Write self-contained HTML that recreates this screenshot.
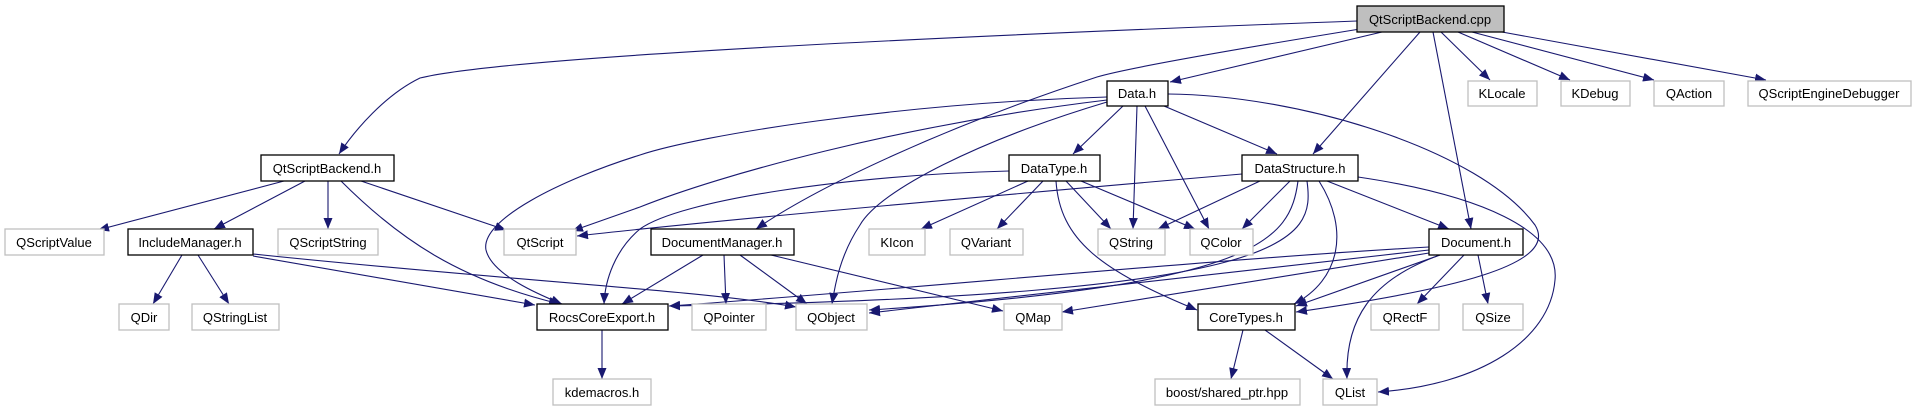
<!DOCTYPE html>
<html><head><meta charset="utf-8"><style>
html,body{margin:0;padding:0;background:#fff;}
svg{display:block;}
text{font-family:"Liberation Sans",sans-serif;font-size:13px;fill:#000;text-anchor:middle;}
.n{fill:#fff;stroke:#000;stroke-width:1.3;}
.g{fill:#fff;stroke:#bfbfbf;stroke-width:1.3;}
path.e{fill:none;stroke:#191970;stroke-width:1.1;}
</style></head><body>
<svg width="1916" height="411" viewBox="0 0 1916 411" xmlns="http://www.w3.org/2000/svg">
<defs><marker id="a" markerUnits="userSpaceOnUse" markerWidth="12" markerHeight="10" refX="11" refY="4.5" orient="auto"><path d="M0,0 L11,4.5 L0,9 z" fill="#191970"/></marker></defs>
<g marker-end="url(#a)">
<!-- cpp -->
<path class="e" d="M1357,21 C900,38 500,58 420,78 C385,95 355,130 339,154"/>
<path class="e" d="M1360,29 C1200,55 1120,70 1097,77 C950,125 820,185 756,229"/>
<path class="e" d="M1382,32 L1170,82"/>
<path class="e" d="M1420,32 L1313,154"/>
<path class="e" d="M1433,32 L1471,229"/>
<path class="e" d="M1441,32 L1490,80"/>
<path class="e" d="M1458,32 L1570,80"/>
<path class="e" d="M1472,32 L1654,80"/>
<path class="e" d="M1502,32 L1766,80"/>
<!-- Data.h -->
<path class="e" d="M1123,106 L1073,154"/>
<path class="e" d="M1137,106 L1133,229"/>
<path class="e" d="M1145,106 L1209,229"/>
<path class="e" d="M1164,106 L1277,154"/>
<path class="e" d="M1168,94 C1300,95 1480,150 1535,225 C1560,265 1450,290 1296,312"/>
<path class="e" d="M1107,97 C900,103 700,135 640,155 C560,180 480,220 486,250 C492,275 540,295 562,304"/>
<path class="e" d="M1107,100 C900,125 720,175 640,207 L572,231"/>
<path class="e" d="M1107,102 C980,140 880,190 860,225 C840,255 835,285 832,304"/>
<!-- DataType.h -->
<path class="e" d="M1009,171 C850,175 680,200 640,229 C615,250 605,280 604,304"/>
<path class="e" d="M1028,181 L921,229"/>
<path class="e" d="M1043,181 L997,229"/>
<path class="e" d="M1066,181 L1111,229"/>
<path class="e" d="M1081,181 L1195,229"/>
<path class="e" d="M1056,181 C1060,240 1100,270 1197,310"/>
<!-- DataStructure.h -->
<path class="e" d="M1242,174 C1000,195 700,222 577,236"/>
<path class="e" d="M1260,181 L1158,229"/>
<path class="e" d="M1290,181 L1242,229"/>
<path class="e" d="M1327,181 L1449,229"/>
<path class="e" d="M1358,177 C1480,195 1560,230 1555,280 C1550,340 1480,385 1378,392"/>
<path class="e" d="M1319,181 C1350,230 1340,280 1294,304"/>
<path class="e" d="M1298,181 C1290,240 1260,285 869,310"/>
<path class="e" d="M1307,181 C1315,240 1300,295 669,306"/>
<!-- Document.h -->
<path class="e" d="M1429,247 C1200,260 900,290 669,306"/>
<path class="e" d="M1429,250 L869,313"/>
<path class="e" d="M1429,253 L1062,312"/>
<path class="e" d="M1440,255 L1296,306"/>
<path class="e" d="M1440,255 C1370,280 1345,320 1347,379"/>
<path class="e" d="M1464,255 L1417,304"/>
<path class="e" d="M1478,255 L1488,304"/>
<!-- CoreTypes -->
<path class="e" d="M1243,330 L1231,379"/>
<path class="e" d="M1265,330 L1333,379"/>
<!-- DocumentManager -->
<path class="e" d="M703,255 L622,304"/>
<path class="e" d="M724,255 L726,304"/>
<path class="e" d="M740,255 L807,304"/>
<path class="e" d="M771,255 L1003,311"/>
<!-- QtScriptBackend.h -->
<path class="e" d="M284,181 L98,230"/>
<path class="e" d="M305,181 L214,229"/>
<path class="e" d="M328,181 L328,229"/>
<path class="e" d="M341,181 C400,240 460,280 560,304"/>
<path class="e" d="M361,181 L506,230"/>
<!-- IncludeManager -->
<path class="e" d="M182,255 L153,304"/>
<path class="e" d="M198,255 L229,304"/>
<path class="e" d="M253,256 L535,305"/>
<path class="e" d="M253,254 C500,280 700,290 796,307"/>
<!-- Rocs -->
<path class="e" d="M602,330 L602,379"/>
</g>
<!-- nodes -->
<rect x="1357" y="6" width="147" height="26" fill="#bfbfbf" stroke="#000" stroke-width="1.3"/><text x="1430" y="24">QtScriptBackend.cpp</text>
<rect class="n" x="1107" y="81" width="61" height="25"/><text x="1137" y="98">Data.h</text>
<rect class="g" x="1468" y="81" width="69" height="25"/><text x="1502" y="98">KLocale</text>
<rect class="g" x="1561" y="81" width="69" height="25"/><text x="1595" y="98">KDebug</text>
<rect class="g" x="1654" y="81" width="70" height="25"/><text x="1689" y="98">QAction</text>
<rect class="g" x="1748" y="81" width="163" height="25"/><text x="1829" y="98">QScriptEngineDebugger</text>
<rect class="n" x="261" y="155" width="133" height="26"/><text x="327" y="173">QtScriptBackend.h</text>
<rect class="n" x="1009" y="155" width="91" height="26"/><text x="1054" y="173">DataType.h</text>
<rect class="n" x="1242" y="155" width="116" height="26"/><text x="1300" y="173">DataStructure.h</text>
<rect class="g" x="5" y="229" width="99" height="26"/><text x="54" y="247">QScriptValue</text>
<rect class="n" x="128" y="229" width="125" height="26"/><text x="190" y="247">IncludeManager.h</text>
<rect class="g" x="278" y="229" width="100" height="26"/><text x="328" y="247">QScriptString</text>
<rect class="g" x="504" y="229" width="72" height="26"/><text x="540" y="247">QtScript</text>
<rect class="n" x="651" y="229" width="143" height="26"/><text x="722" y="247">DocumentManager.h</text>
<rect class="g" x="869" y="229" width="56" height="26"/><text x="897" y="247">KIcon</text>
<rect class="g" x="950" y="229" width="73" height="26"/><text x="986" y="247">QVariant</text>
<rect class="g" x="1098" y="229" width="67" height="26"/><text x="1131" y="247">QString</text>
<rect class="g" x="1190" y="229" width="63" height="26"/><text x="1221" y="247">QColor</text>
<rect class="n" x="1429" y="229" width="94" height="26"/><text x="1476" y="247">Document.h</text>
<rect class="g" x="119" y="304" width="50" height="26"/><text x="144" y="322">QDir</text>
<rect class="g" x="192" y="304" width="87" height="26"/><text x="235" y="322">QStringList</text>
<rect class="n" x="537" y="304" width="131" height="26"/><text x="602" y="322">RocsCoreExport.h</text>
<rect class="g" x="692" y="304" width="74" height="26"/><text x="729" y="322">QPointer</text>
<rect class="g" x="796" y="304" width="71" height="26"/><text x="831" y="322">QObject</text>
<rect class="g" x="1004" y="304" width="58" height="26"/><text x="1033" y="322">QMap</text>
<rect class="n" x="1198" y="304" width="97" height="26"/><text x="1246" y="322">CoreTypes.h</text>
<rect class="g" x="1371" y="304" width="68" height="26"/><text x="1405" y="322">QRectF</text>
<rect class="g" x="1463" y="304" width="60" height="26"/><text x="1493" y="322">QSize</text>
<rect class="g" x="553" y="379" width="98" height="26"/><text x="602" y="397">kdemacros.h</text>
<rect class="g" x="1155" y="379" width="145" height="26"/><text x="1227" y="397">boost/shared_ptr.hpp</text>
<rect class="g" x="1323" y="379" width="54" height="26"/><text x="1350" y="397">QList</text>
</svg>
</body></html>
